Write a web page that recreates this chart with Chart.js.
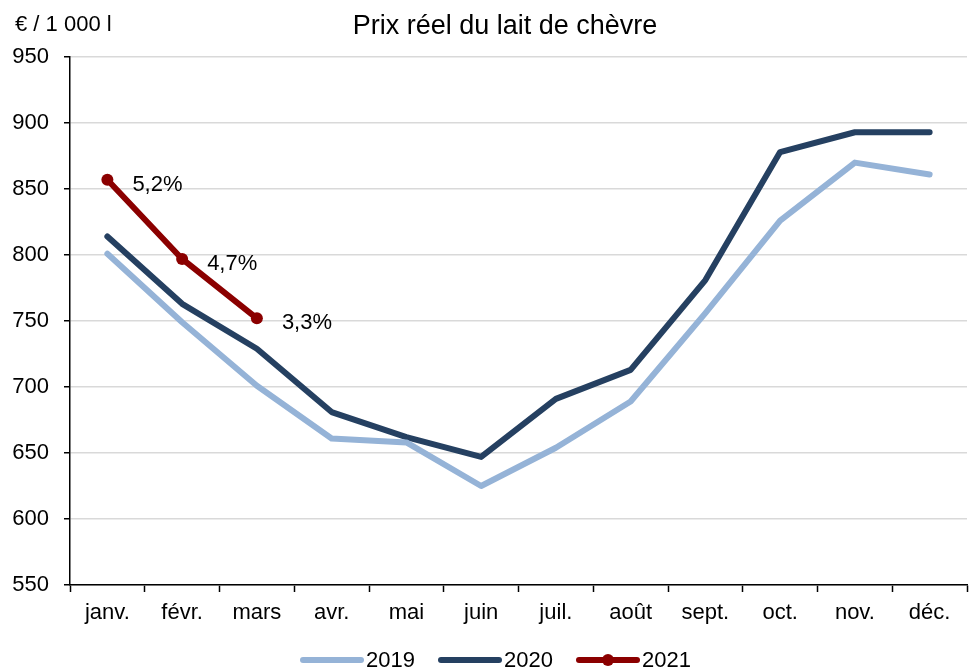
<!DOCTYPE html>
<html>
<head>
<meta charset="utf-8">
<script src="https://cdn.jsdelivr.net/npm/chart.js@4"></script>
<style>
  html, body { margin: 0; padding: 0; background: #fff; }
  #wrap { width: 973px; height: 672px; }
</style>
</head>
<body>
<div id="wrap"><canvas id="myChart" width="973" height="672"></canvas></div>
<script>
var months = ["janv.", "févr.", "mars", "avr.", "mai", "juin", "juil.", "août", "sept.", "oct.", "nov.", "déc."];
var prix2019 = [801, 749, 701, 661, 658, 625, 654, 689, 756, 826, 870, 861];
var prix2020 = [814, 763, 729, 681, 662, 647, 691, 713, 781, 878, 893, 893];
var prix2021 = [857, 797, 752];
var labels2021 = ["5,2%", "4,7%", "3,3%"];
var yTicks = [550, 600, 650, 700, 750, 800, 850, 900, 950];

var FONT = "Liberation Sans, Arial, sans-serif";

// texts that are not part of the scales: title, unit, % labels, legend
var extras = {
  id: "extras",
  afterDraw: function (chart) {
    var c = chart.ctx;
    c.save();
    c.fillStyle = "#000";
    c.textBaseline = "middle";

    c.font = "27px " + FONT;
    c.textAlign = "center";
    c.fillText("Prix réel du lait de chèvre", 505, 27);

    c.font = "22px " + FONT;
    c.textAlign = "left";
    c.fillText("€ / 1 000 l", 15, 25);

    // labels next to the 2021 points
    var meta = chart.getDatasetMeta(2);
    meta.data.forEach(function (pt, i) {
      c.fillText(labels2021[i], pt.x + 25, pt.y + 5);
    });

    // legend
    var y = 660;
    var x = 303;
    chart.data.datasets.forEach(function (ds) {
      c.strokeStyle = ds.borderColor;
      c.lineWidth = 6;
      c.lineCap = "round";
      c.beginPath();
      c.moveTo(x, y);
      c.lineTo(x + 58, y);
      c.stroke();
      if (ds.pointRadius > 0) {
        c.fillStyle = ds.borderColor;
        c.beginPath();
        c.arc(x + 29, y, 6, 0, Math.PI * 2);
        c.fill();
      }
      c.fillStyle = "#000";
      c.font = "22px " + FONT;
      c.fillText(ds.label, x + 63, y + 1);
      x += 138;
    });
    c.restore();
  }
};

var ctx = document.getElementById("myChart");
var myChart = new Chart(ctx, {
  type: "line",
  data: {
    labels: months,
    datasets: [
      {
        label: "2019",
        data: prix2019,
        borderColor: "#95b3d7",
        borderWidth: 6,
        pointRadius: 0,
        borderCapStyle: "round",
        borderJoinStyle: "round",
        tension: 0
      },
      {
        label: "2020",
        data: prix2020,
        borderColor: "#254061",
        borderWidth: 6,
        pointRadius: 0,
        borderCapStyle: "round",
        borderJoinStyle: "round",
        tension: 0
      },
      {
        label: "2021",
        data: prix2021,
        borderColor: "#8b0000",
        backgroundColor: "#8b0000",
        borderWidth: 6,
        pointRadius: 6,
        pointBorderWidth: 0,
        borderCapStyle: "round",
        borderJoinStyle: "round",
        tension: 0
      }
    ]
  },
  options: {
    responsive: false,
    animation: false,
    devicePixelRatio: 1,
    layout: { padding: { top: 57, right: 1, bottom: 42, left: 0 } },
    plugins: {
      legend: { display: false },
      tooltip: { enabled: false }
    },
    scales: {
      x: {
        offset: true,
        grid: {
          offset: true,
          drawOnChartArea: false,
          tickLength: 7,
          tickColor: "#000",
          tickWidth: 1.5
        },
        border: { color: "#000", width: 1.5 },
        ticks: {
          color: "#000",
          font: { family: FONT, size: 22 },
          padding: 8,
          maxRotation: 0
        },
        afterFit: function (scale) { scale.height = 45; }
      },
      y: {
        min: 550,
        max: 950,
        afterBuildTicks: function (scale) {
          scale.ticks = yTicks.map(function (v) { return { value: v }; });
        },
        grid: {
          color: "#d9d9d9",
          lineWidth: 1.5,
          tickLength: 6,
          tickColor: "#000",
          tickWidth: 1.5
        },
        border: { color: "#000", width: 1.5 },
        ticks: {
          color: "#000",
          font: { family: FONT, size: 22 },
          padding: 15
        },
        afterFit: function (scale) { scale.width = 70; }
      }
    }
  },
  plugins: [extras]
});
</script>
</body>
</html>
